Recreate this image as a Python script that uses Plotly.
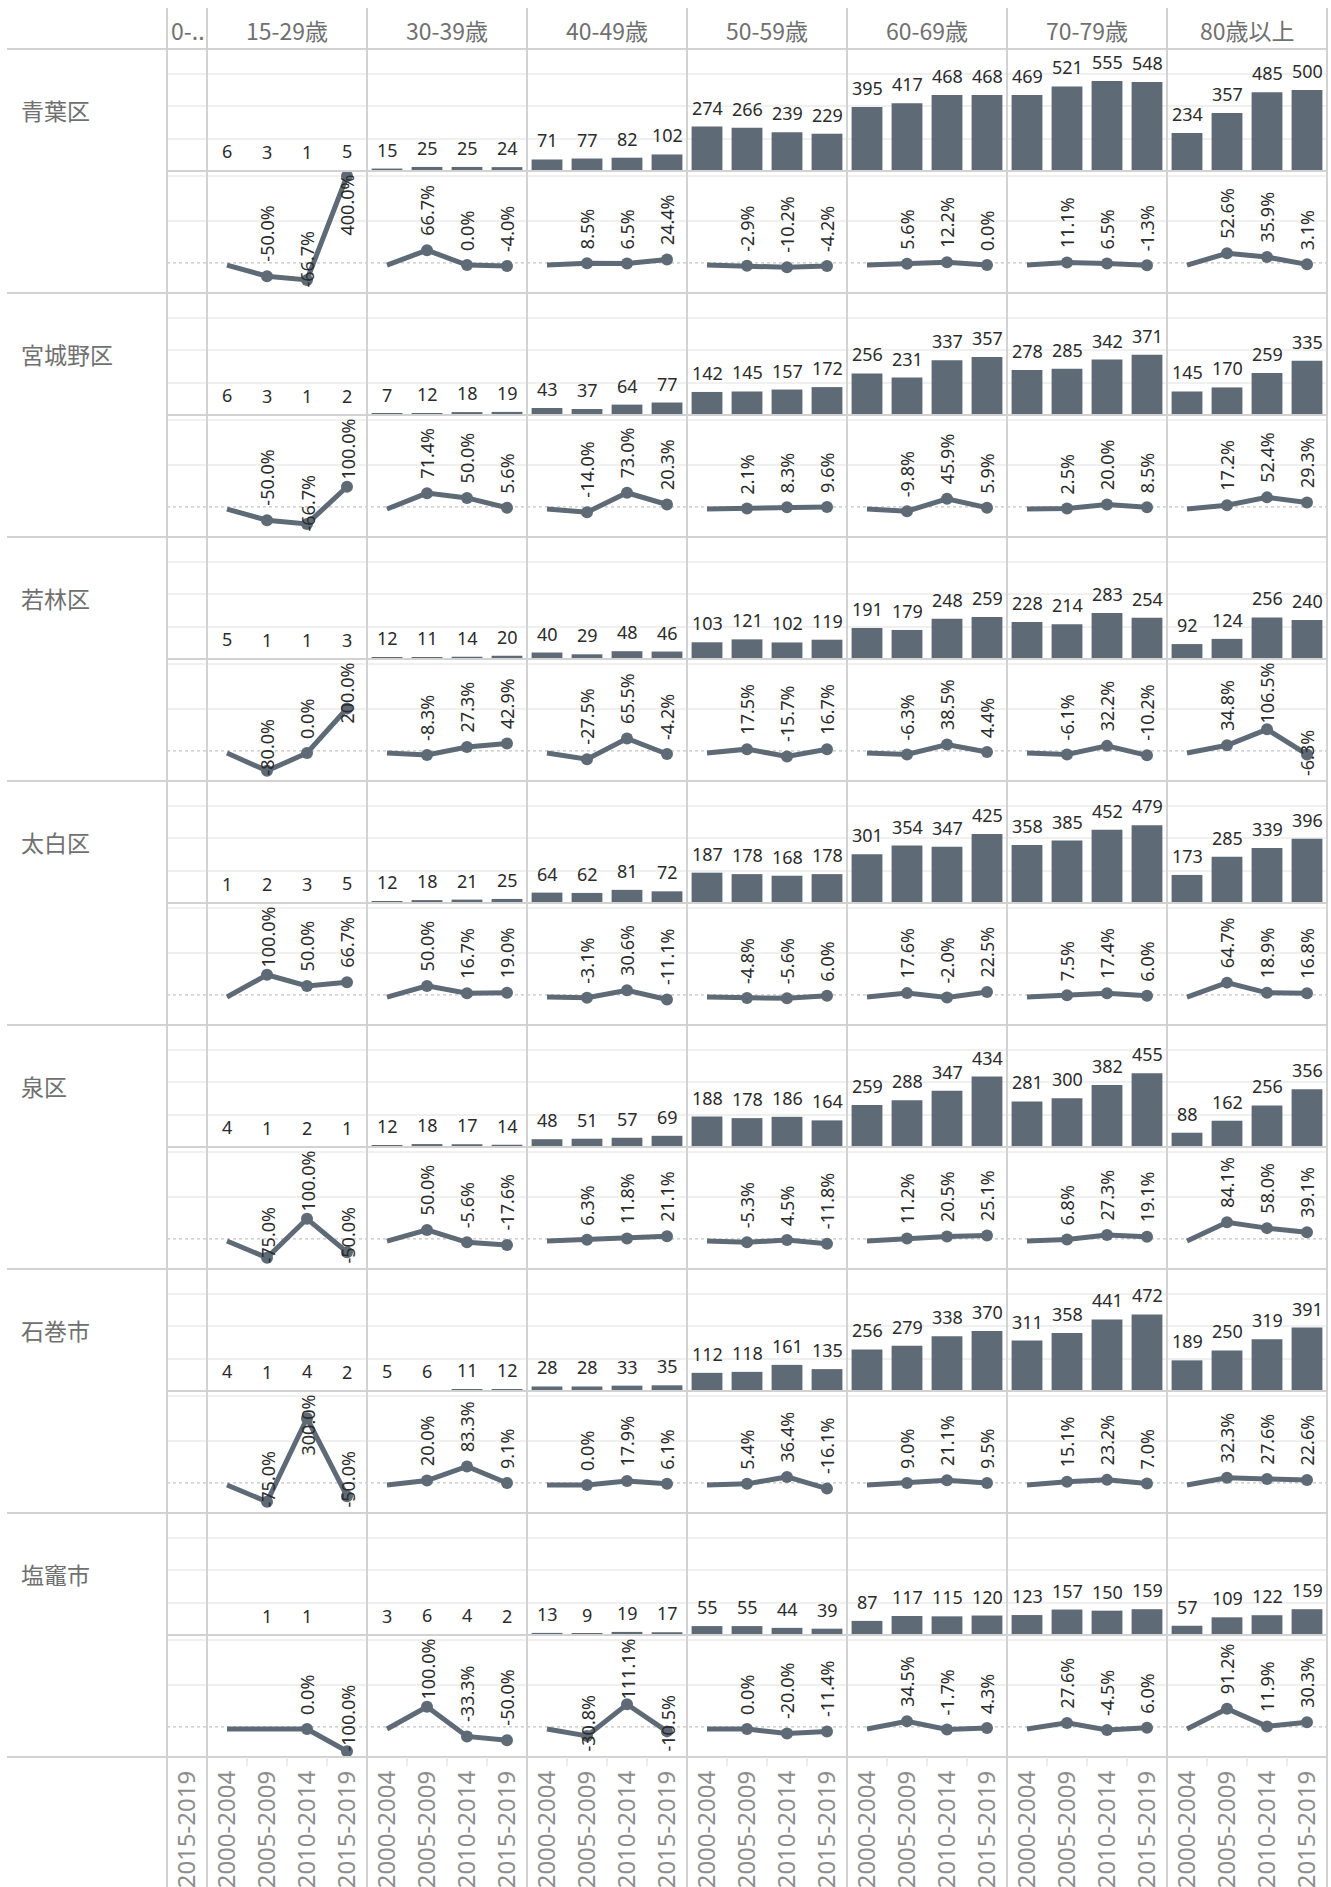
import plotly.graph_objects as go

# ---------------- data ----------------
regions = ["青葉区", "宮城野区", "若林区", "太白区", "泉区", "石巻市", "塩竈市"]
age_groups = ["15-29歳", "30-39歳", "40-49歳", "50-59歳", "60-69歳", "70-79歳", "80歳以上"]
first_group_label = "0-.."
first_group_periods = ["2015-2019"]
periods = ["2000-2004", "2005-2009", "2010-2014", "2015-2019"]

aoba_counts = [[6, 3, 1, 5], [15, 25, 25, 24], [71, 77, 82, 102], [274, 266, 239, 229],
               [395, 417, 468, 468], [469, 521, 555, 548], [234, 357, 485, 500]]
aoba_pct = [[None, -50.0, -66.7, 400.0], [None, 66.7, 0.0, -4.0], [None, 8.5, 6.5, 24.4],
            [None, -2.9, -10.2, -4.2], [None, 5.6, 12.2, 0.0], [None, 11.1, 6.5, -1.3],
            [None, 52.6, 35.9, 3.1]]

miyagino_counts = [[6, 3, 1, 2], [7, 12, 18, 19], [43, 37, 64, 77], [142, 145, 157, 172],
                   [256, 231, 337, 357], [278, 285, 342, 371], [145, 170, 259, 335]]
miyagino_pct = [[None, -50.0, -66.7, 100.0], [None, 71.4, 50.0, 5.6], [None, -14.0, 73.0, 20.3],
                [None, 2.1, 8.3, 9.6], [None, -9.8, 45.9, 5.9], [None, 2.5, 20.0, 8.5],
                [None, 17.2, 52.4, 29.3]]

wakabayashi_counts = [[5, 1, 1, 3], [12, 11, 14, 20], [40, 29, 48, 46], [103, 121, 102, 119],
                      [191, 179, 248, 259], [228, 214, 283, 254], [92, 124, 256, 240]]
wakabayashi_pct = [[None, -80.0, 0.0, 200.0], [None, -8.3, 27.3, 42.9], [None, -27.5, 65.5, -4.2],
                   [None, 17.5, -15.7, 16.7], [None, -6.3, 38.5, 4.4], [None, -6.1, 32.2, -10.2],
                   [None, 34.8, 106.5, -6.3]]

taihaku_counts = [[1, 2, 3, 5], [12, 18, 21, 25], [64, 62, 81, 72], [187, 178, 168, 178],
                  [301, 354, 347, 425], [358, 385, 452, 479], [173, 285, 339, 396]]
taihaku_pct = [[None, 100.0, 50.0, 66.7], [None, 50.0, 16.7, 19.0], [None, -3.1, 30.6, -11.1],
               [None, -4.8, -5.6, 6.0], [None, 17.6, -2.0, 22.5], [None, 7.5, 17.4, 6.0],
               [None, 64.7, 18.9, 16.8]]

izumi_counts = [[4, 1, 2, 1], [12, 18, 17, 14], [48, 51, 57, 69], [188, 178, 186, 164],
                [259, 288, 347, 434], [281, 300, 382, 455], [88, 162, 256, 356]]
izumi_pct = [[None, -75.0, 100.0, -50.0], [None, 50.0, -5.6, -17.6], [None, 6.3, 11.8, 21.1],
             [None, -5.3, 4.5, -11.8], [None, 11.2, 20.5, 25.1], [None, 6.8, 27.3, 19.1],
             [None, 84.1, 58.0, 39.1]]

ishinomaki_counts = [[4, 1, 4, 2], [5, 6, 11, 12], [28, 28, 33, 35], [112, 118, 161, 135],
                     [256, 279, 338, 370], [311, 358, 441, 472], [189, 250, 319, 391]]
ishinomaki_pct = [[None, -75.0, 300.0, -50.0], [None, 20.0, 83.3, 9.1], [None, 0.0, 17.9, 6.1],
                  [None, 5.4, 36.4, -16.1], [None, 9.0, 21.1, 9.5], [None, 15.1, 23.2, 7.0],
                  [None, 32.3, 27.6, 22.6]]

shiogama_counts = [[None, 1, 1, None], [3, 6, 4, 2], [13, 9, 19, 17], [55, 55, 44, 39],
                   [87, 117, 115, 120], [123, 157, 150, 159], [57, 109, 122, 159]]
shiogama_pct = [[None, None, 0.0, -100.0], [None, 100.0, -33.3, -50.0], [None, -30.8, 111.1, -10.5],
                [None, 0.0, -20.0, -11.4], [None, 34.5, -1.7, 4.3], [None, 27.6, -4.5, 6.0],
                [None, 91.2, 11.9, 30.3]]

region_counts = [aoba_counts, miyagino_counts, wakabayashi_counts, taihaku_counts,
                 izumi_counts, ishinomaki_counts, shiogama_counts]
region_pct = [aoba_pct, miyagino_pct, wakabayashi_pct, taihaku_pct,
              izumi_pct, ishinomaki_pct, shiogama_pct]

# ---------------- style / geometry ----------------
W, H = 1331, 1887
X0, X1 = 167, 1327           # panel area (px)
SLOT = (X1 - X0) / (1 + 4 * len(age_groups))
HEADER_TOP, HEADER_BOTTOM = 8, 49
PANE_H = 122
ROW_H = 2 * PANE_H
AXIS_TOP = HEADER_BOTTOM + ROW_H * len(regions)

BAR_RANGE = [0, 752]
BAR_GRID = [200, 400, 600]
LINE_RANGE = [-125.6, 422.4]
LINE_GRID = [200, 400]
REF_VALUE = 10

BAR_COLOR = "#5e6a76"
TEXT_DARK = "#2b2b2b"
HEAD_GRAY = "#707070"
AXIS_GRAY = "#8c8c8c"
GRID = "#f0f0f0"
SEP = "#d2d2d2"
FONT = "Noto Sans, Noto Sans CJK JP, sans-serif"
CJK_FONT = "Noto Sans CJK JP, Noto Sans, sans-serif"
LABEL_SIZE = 18

PPU = PANE_H / (LINE_RANGE[1] - LINE_RANGE[0])


def px_x(px):
    return px / W


def px_y(py):
    return 1 - py / H


keys0 = [f"{first_group_label}|{p}" for p in first_group_periods]
group_keys = [[f"{g}|{p}" for p in periods] for g in age_groups]
all_keys = keys0 + [k for ks in group_keys for k in ks]
all_ticktext = first_group_periods + [p for g in age_groups for p in periods]

fig = go.Figure()
annotations = []
shapes = []

layout_axes = {}
layout_axes["xaxis"] = dict(
    type="category", categoryarray=all_keys, categoryorder="array",
    range=[-0.5, len(all_keys) - 0.5],
    domain=[px_x(X0), px_x(X1)], anchor=f"y{2 * len(regions)}",
    tickmode="array", tickvals=all_keys, ticktext=all_ticktext,
    tickangle=-90, ticks="", showgrid=False, showline=False, zeroline=False,
    tickfont=dict(family=FONT, size=24, color=AXIS_GRAY), ticklabelstandoff=8,
    fixedrange=True,
)

CHAR_W = {".": 0.268, "-": 0.322, "%": 0.846}


def text_len(t):
    return sum(CHAR_W.get(c, 0.572) for c in t) * LABEL_SIZE + 2


for r, region in enumerate(regions):
    top = HEADER_BOTTOM + r * ROW_H
    kb, kl = 2 * r + 1, 2 * r + 2
    nb = "yaxis" if kb == 1 else f"yaxis{kb}"
    nl = f"yaxis{kl}"
    rb = "y" if kb == 1 else f"y{kb}"
    rl = f"y{kl}"
    layout_axes[nb] = dict(domain=[px_y(top + PANE_H), px_y(top)], range=BAR_RANGE, anchor="x",
                           tickmode="array", tickvals=BAR_GRID, showticklabels=False, ticks="",
                           showgrid=True, gridcolor=GRID, gridwidth=2, zeroline=False,
                           showline=False, fixedrange=True)
    layout_axes[nl] = dict(domain=[px_y(top + ROW_H), px_y(top + PANE_H)], range=LINE_RANGE, anchor="x",
                           tickmode="array", tickvals=LINE_GRID, showticklabels=False, ticks="",
                           showgrid=True, gridcolor=GRID, gridwidth=2, zeroline=False,
                           showline=False, fixedrange=True)

    counts = region_counts[r]
    pcts = region_pct[r]

    # bars
    xs, ys = [], []
    for g in range(len(age_groups)):
        for p in range(len(periods)):
            xs.append(group_keys[g][p])
            ys.append(counts[g][p])
    fig.add_trace(go.Bar(x=xs, y=ys, xaxis="x", yaxis=rb, marker=dict(color=BAR_COLOR, line=dict(width=0)),
                         width=0.77, hoverinfo="skip", showlegend=False))
    for x, v in zip(xs, ys):
        if v is None:
            continue
        annotations.append(dict(x=x, y=v, xref="x", yref=rb, text=str(v), showarrow=False,
                                yanchor="bottom", xanchor="center", yshift=5,
                                font=dict(family=FONT, size=LABEL_SIZE, color=TEXT_DARK)))

    # reference dashed line
    shapes.append(dict(type="line", xref="x", yref=rl, x0=-0.5, x1=len(all_keys) - 0.5,
                       y0=REF_VALUE, y1=REF_VALUE, layer="below",
                       line=dict(color="#c4c4c4", width=1.2, dash="3px,3px")))

    # lines
    for g in range(len(age_groups)):
        vals = [v if v is not None else 0 for v in pcts[g]]
        fig.add_trace(go.Scatter(x=group_keys[g], y=vals, xaxis="x", yaxis=rl, mode="lines",
                                 line=dict(color=BAR_COLOR, width=5), hoverinfo="skip", showlegend=False))
        mx = [group_keys[g][p] for p in range(len(periods)) if pcts[g][p] is not None]
        my = [pcts[g][p] for p in range(len(periods)) if pcts[g][p] is not None]
        fig.add_trace(go.Scatter(x=mx, y=my, xaxis="x", yaxis=rl, mode="markers",
                                 marker=dict(color=BAR_COLOR, size=12), hoverinfo="skip", showlegend=False))
        for p in range(len(periods)):
            v = pcts[g][p]
            if v is None:
                continue
            txt = f"{v:.1f}%"
            L = text_len(txt)
            m = (LINE_RANGE[1] - v) * PPU
            nbrs = [vals[p - 1]] if p > 0 else []
            if p + 1 < len(periods):
                nbrs.append(vals[p + 1])
            below = (len(nbrs) > 0 and all(n > v for n in nbrs)
                     and sum(n - v for n in nbrs) >= 100 + 50 * (len(nbrs) - 1))
            ann = dict(x=group_keys[g][p], xref="x", yref=rl, text=txt, showarrow=False,
                       textangle=-90, xanchor="center",
                       font=dict(family=FONT, size=LABEL_SIZE, color=TEXT_DARK))
            if not below:
                if m - 13 - L < 2:
                    ann.update(y=LINE_RANGE[1], yanchor="top", yshift=-2)
                else:
                    ann.update(y=v, yanchor="bottom", yshift=12)
            else:
                if m + 13 + L > PANE_H - 3:
                    ann.update(y=LINE_RANGE[0], yanchor="bottom", yshift=3)
                else:
                    ann.update(y=v, yanchor="top", yshift=-12)
            annotations.append(ann)

    # region label
    annotations.append(dict(x=px_x(19), y=px_y(top + PANE_H / 2), xref="paper", yref="paper",
                            text=region, showarrow=False, xanchor="left", yanchor="middle",
                            font=dict(family=CJK_FONT, size=23, color=HEAD_GRAY)))

    # separators
    shapes.append(dict(type="line", xref="paper", yref="paper", x0=px_x(X0), x1=px_x(X1),
                       y0=px_y(top + PANE_H), y1=px_y(top + PANE_H), layer="above",
                       line=dict(color=SEP, width=2)))
    shapes.append(dict(type="line", xref="paper", yref="paper", x0=px_x(7), x1=px_x(X1),
                       y0=px_y(top + ROW_H), y1=px_y(top + ROW_H), layer="above",
                       line=dict(color=SEP, width=2)))

# header line
shapes.append(dict(type="line", xref="paper", yref="paper", x0=px_x(7), x1=px_x(X1),
                   y0=px_y(HEADER_BOTTOM), y1=px_y(HEADER_BOTTOM), layer="above",
                   line=dict(color=SEP, width=2)))

# column separators and headers
col_edges = [X0, X0 + SLOT] + [X0 + SLOT * (1 + 4 * (i + 1)) for i in range(len(age_groups))]
for xe in col_edges:
    shapes.append(dict(type="line", xref="paper", yref="paper", x0=px_x(xe), x1=px_x(xe),
                       y0=px_y(HEADER_TOP), y1=0, layer="above", line=dict(color=SEP, width=2)))
annotations.append(dict(x=px_x(X0 + 2), y=px_y((HEADER_TOP + HEADER_BOTTOM) / 2 + 2), xref="paper", yref="paper",
                        text=first_group_label, showarrow=False, xanchor="left", yanchor="middle",
                        font=dict(family=CJK_FONT, size=23, color=HEAD_GRAY)))
for i, g in enumerate(age_groups):
    cx = X0 + SLOT * (1 + 4 * i + 2)
    annotations.append(dict(x=px_x(cx), y=px_y((HEADER_TOP + HEADER_BOTTOM) / 2 + 2), xref="paper", yref="paper",
                            text=g, showarrow=False, xanchor="center", yanchor="middle",
                            font=dict(family=CJK_FONT, size=23, color=HEAD_GRAY)))
    for j in range(1, 4):
        xt = X0 + SLOT * (1 + 4 * i + j)
        shapes.append(dict(type="line", xref="paper", yref="paper", x0=px_x(xt), x1=px_x(xt),
                           y0=px_y(AXIS_TOP), y1=px_y(AXIS_TOP + 9), layer="above",
                           line=dict(color="#e6e6e6", width=1.5)))

fig.update_layout(
    width=W, height=H, margin=dict(l=0, r=0, t=0, b=0),
    paper_bgcolor="white", plot_bgcolor="white",
    showlegend=False, bargap=0.23,
    annotations=annotations, shapes=shapes,
    **layout_axes,
)

fig.write_html("out.html", post_script="document.body.style.margin='0';document.body.style.overflow='hidden';",
               config={"displayModeBar": False})
